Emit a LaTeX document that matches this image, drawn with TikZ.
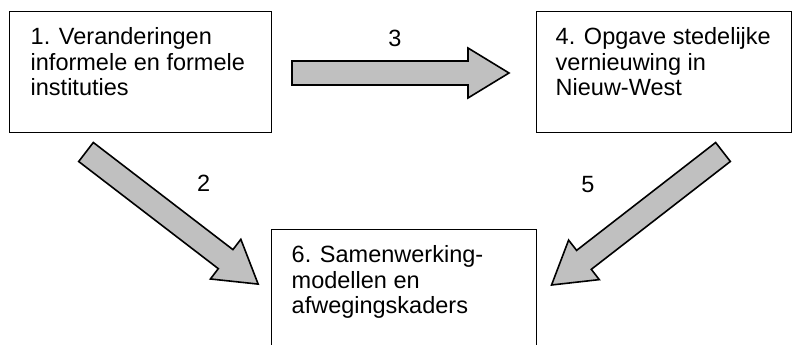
\documentclass[tikz,border=0pt]{standalone}
\usepackage{fontspec}
\setmainfont{Liberation Sans}
\definecolor{arrowgray}{RGB}{192,192,192}
\tikzset{
  box/.style={draw=black, line width=1pt, inner sep=0pt},
  txt/.style={anchor=north west, align=left, inner sep=0pt, font=\fontsize{23.5}{25.5}\selectfont},
  num/.style={anchor=base, inner sep=0pt, font=\fontsize{23.5}{25.5}\selectfont},
  blockarrow/.style={draw=black, line width=1.6pt, line join=miter, fill=arrowgray}
}
\newcommand{\fatarrow}{(0,-12) -- (176,-12) -- (176,-25) -- (217,0) -- (176,25) -- (176,12) -- (0,12) -- cycle}
\begin{document}
\begin{tikzpicture}[x=1pt, y=-1pt]
    \useasboundingbox (0,0) rectangle (793,345);
    \clip (0,0) rectangle (793,345);
    % the three boxes
    \node [box, minimum width=262.7, minimum height=120] (veranderingen) at (140.6,72) {};
    \node [box, minimum width=255, minimum height=120] (opgave) at (664,72) {};
    \node [box, minimum width=265, minimum height=171] (samenwerking) at (404.3,314.5) {};
    \node [txt] (veranderingentext) at (30.5,27.5) {1. Veranderingen\\informele en formele\\instituties};
    \node [txt] (opgavetext) at (555.5,27.5) {4. Opgave stedelijke\\vernieuwing in\\Nieuw-West};
    \node [txt] (samenwerkingtext) at (291.5,245.5) {6. Samenwerking-\\modellen en\\afwegingskaders};
    % the three arrows
    \draw [blockarrow, shift={(292,73)}] \fatarrow;
    \draw [blockarrow, shift={(86,152)}, rotate=-37.5] \fatarrow;
    \draw [blockarrow, shift={(723,152)}, rotate=-142.2] \fatarrow;
    \node [num] (drie) at (395,46.7) {3};
    \node [num] (twee) at (203.7,191.7) {2};
    \node [num] (vijf) at (588,192.5) {5};
\end{tikzpicture}
\end{document}
